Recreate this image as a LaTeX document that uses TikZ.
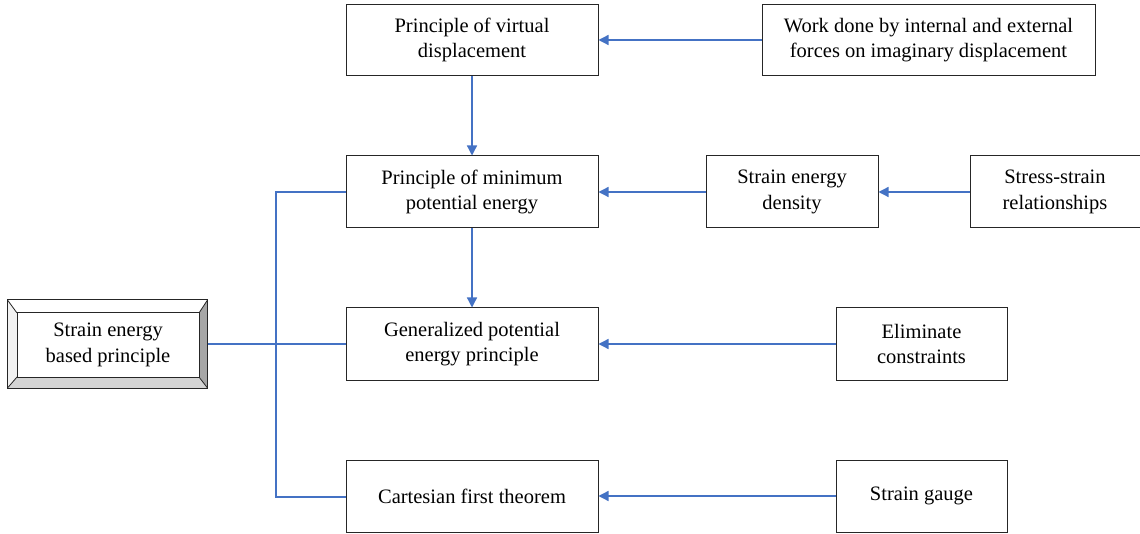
\documentclass[tikz,border=0pt]{standalone}
\usepackage{fontspec}
\setmainfont{Liberation Serif}
\usetikzlibrary{arrows.meta}
\definecolor{lnk}{HTML}{4472C4}
\definecolor{bevR}{HTML}{A6A6A6}
\definecolor{bevB}{HTML}{D4D4D4}
\definecolor{bevL}{HTML}{F2F2F2}
\tikzset{
  box/.style={draw=black!85, line width=1pt, fill=white, align=center, inner sep=0pt,
     font=\fontsize{20.5}{25.5}\selectfont},
  arr/.style={draw=lnk, line width=1.3pt, -{Triangle[length=10pt,width=10pt]}},
  lnkline/.style={draw=lnk, line width=1.3pt},
}
\begin{document}
\begin{tikzpicture}[x=1pt,y=-1pt]
\useasboundingbox (0,0) rectangle (1140,534);
% boxes (centre, width, height)
\node[box, minimum width=252pt, minimum height=71pt] (pvd) at (472,40) {Principle of virtual\\displacement};
\node[box, minimum width=333pt, minimum height=71pt] (work) at (928.5,40) {Work done by internal and external\\forces on imaginary displacement};
\node[box, minimum width=252pt, minimum height=72pt] (pmpe) at (472,192) {Principle of minimum\\potential energy};
\node[box, minimum width=172pt, minimum height=72pt] (sed) at (792,192) {Strain energy\\density};
\node[box, minimum width=170pt, minimum height=72pt] (ss) at (1055,192) {Stress-strain\\relationships};
\node[box, minimum width=252pt, minimum height=72pt] (gpep) at (472,344) {Generalized potential\\energy principle};
\node[box, minimum width=171pt, minimum height=72pt] (ec) at (921.5,344) {Eliminate\\constraints};
\node[box, minimum width=252pt, minimum height=72pt] (cft) at (472,496) {Cartesian first theorem};
\node[box, minimum width=171pt, minimum height=72pt] (sg) at (921.5,496) {Strain gauge};
% bevelled left node
\node[draw=black!85, line width=1pt, minimum width=199pt, minimum height=87pt, inner sep=0pt] (seb) at (107.5,344) {};
\fill[white] (seb.north west) -- (seb.north east) -- (199,313) -- (17,313) -- cycle;
\fill[bevL] (seb.north west) -- (17,313) -- (17,377) -- (seb.south west) -- cycle;
\fill[bevR] (seb.north east) -- (seb.south east) -- (199,377) -- (199,313) -- cycle;
\fill[bevB] (seb.south west) -- (seb.south east) -- (199,377) -- (17,377) -- cycle;
\draw[black!85, line width=0.8pt] (seb.north west) -- (17,313) (seb.north east) -- (199,313)
  (seb.south west) -- (17,377) (seb.south east) -- (199,377);
\draw[black!85, line width=1pt] (seb.north west) rectangle (seb.south east);
\node[box, minimum width=182pt, minimum height=64pt] (sebin) at (108,345) {Strain energy\\based principle};
% connectors
\coordinate (tr) at (276,192);
\coordinate (br) at (276,497);
\draw[lnkline] (seb.east) -- (gpep.west);
\draw[lnkline] (pmpe.west) -- (tr) -- (br) -- (cft.west |- br);
\draw[arr] (work.west) -- (pvd.east);
\draw[arr] (pvd.south) -- (pmpe.north);
\draw[arr] (sed.west) -- (pmpe.east);
\draw[arr] (ss.west) -- (sed.east);
\draw[arr] (pmpe.south) -- (gpep.north);
\draw[arr] (ec.west) -- (gpep.east);
\draw[arr] (sg.west) -- (cft.east);
\end{tikzpicture}
\end{document}
